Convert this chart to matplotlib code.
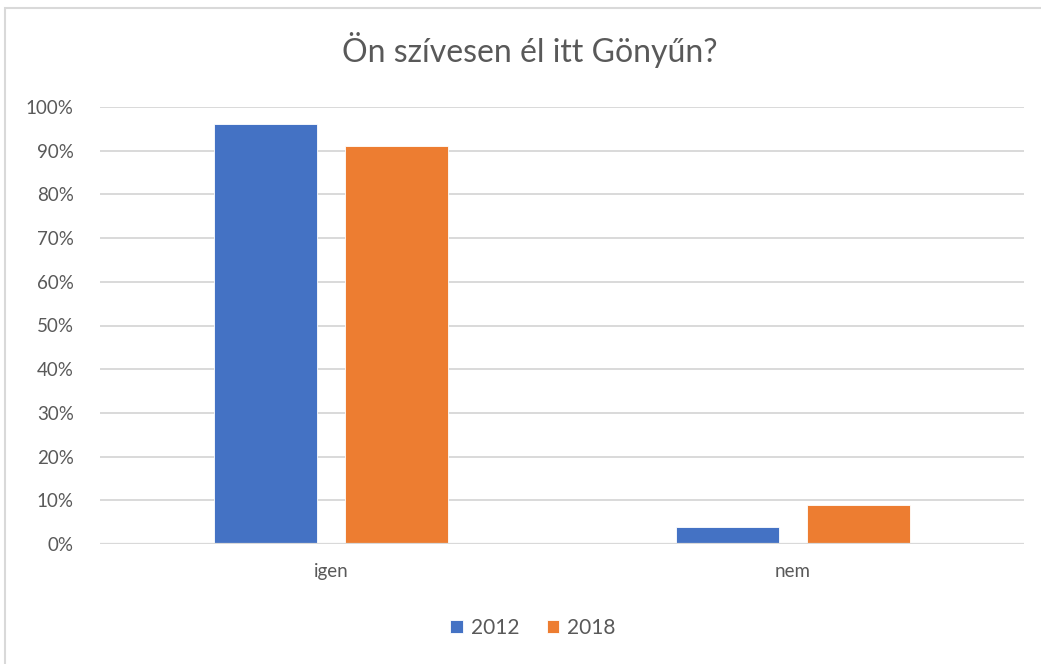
import numpy as np
import matplotlib.pyplot as plt
from matplotlib.patches import Rectangle
from matplotlib.ticker import PercentFormatter

# ── Data ──────────────────────────────────────────────────────────────────────
categories = ['igen', 'nem']
years = ['2012', '2018']
values_2012 = [0.96, 0.04]
values_2018 = [0.91, 0.09]
colors = ['#4472C4', '#ED7D31']

plt.rcParams['font.family'] = ['Lato', 'DejaVu Sans']

fig = plt.figure(figsize=(10.41, 6.64), dpi=100)
ax = fig.add_axes([100 / 1041, 1 - 544 / 664, 924 / 1041, 437 / 664])

x = np.arange(len(categories))
width = 0.223
offset = 0.142
ax.bar(x - offset, values_2012, width, color=colors[0], label=years[0],
       edgecolor='white', linewidth=0.6, zorder=3)
ax.bar(x + offset, values_2018, width, color=colors[1], label=years[1],
       edgecolor='white', linewidth=0.6, zorder=3)

ax.set_xlim(-0.5, 1.5)
ax.set_ylim(0, 1)
ax.set_yticks(np.arange(0, 1.01, 0.1))
ax.yaxis.set_major_formatter(PercentFormatter(1.0, decimals=0))
ax.set_xticks(x)
ax.set_xticklabels(categories)

ax.grid(axis='y', color='#d9d9d9', linewidth=1.4, zorder=0)
ax.axhline(0, color='#d9d9d9', linewidth=1.6, zorder=4)
for s in ax.spines.values():
    s.set_visible(False)
ax.tick_params(axis='both', length=0, colors='#595959', labelsize=13.5)
ax.tick_params(axis='y', pad=19)
ax.tick_params(axis='x', pad=14)

fig.text(530 / 1041, 1 - 50 / 664, 'Ön szívesen él itt Gönyűn?', ha='center',
         va='center', fontsize=23, color='#595959')

ax.legend(loc='center', bbox_to_anchor=(533 / 1041, 1 - 628 / 664),
          bbox_transform=fig.transFigure, ncol=2, frameon=False,
          fontsize=15, labelcolor='#595959', handlelength=0.6,
          handleheight=0.6, handletextpad=0.4, columnspacing=1.3)

# chart area border
fig.patches.append(Rectangle((5 / 1041, -0.05), 1.1, 1 - 8 / 664 + 0.05,
                             transform=fig.transFigure, fill=False,
                             edgecolor='#d9d9d9', linewidth=1.5))

fig.savefig('out.png', dpi=100, facecolor='white')
